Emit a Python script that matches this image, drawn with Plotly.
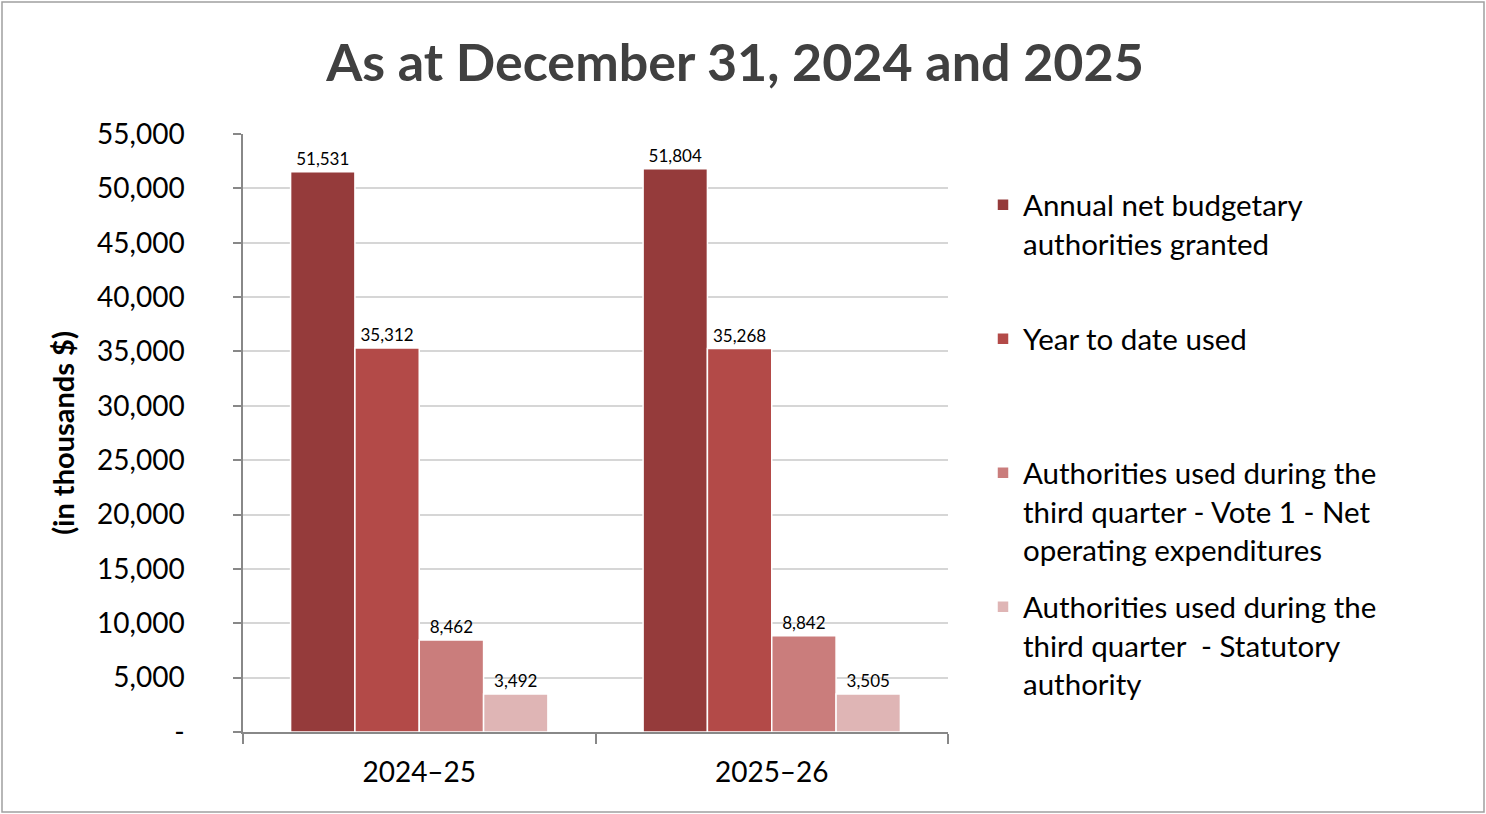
import plotly.graph_objects as go

# values in thousands of dollars
years = ["2024\u201325", "2025\u201326"]
annual_granted = [51531, 51804]
ytd_used = [35312, 35268]
q3_vote1 = [8462, 8842]
q3_statutory = [3492, 3505]

series_names = [
    "Annual net budgetary<br>authorities granted",
    "Year to date used",
    "Authorities used during the<br>third quarter - Vote 1 - Net<br>operating expenditures",
    "Authorities used during the<br>third quarter  - Statutory<br>authority",
]
series_values = [annual_granted, ytd_used, q3_vote1, q3_statutory]
series_colors = ["#953B3B", "#B34A48", "#CA7D7C", "#DFB5B5"]

y_ticks = [0, 5000, 10000, 15000, 20000, 25000, 30000, 35000, 40000, 45000, 50000, 55000]
y_ticktext = ["-"] + [f"{v:,}" for v in y_ticks[1:]]

FONT = "Lato"

# plot area in pixels (figure is 1486 x 814)
L, R, T, B = 243, 948, 134, 732
W, H = 1486, 814
pw, ph = R - L, B - T

def px_x(x):
    return (x - L) / pw

def px_y(y):
    return (B - y) / ph

fig = go.Figure()

legend_tops = [179, 313, 447, 581]
legend_names = ["legend", "legend2", "legend3", "legend4"]

for name, vals, color, lg in zip(series_names, series_values, series_colors, legend_names):
    fig.add_trace(go.Bar(
        x=years, y=vals, name=name,
        marker=dict(color=color, line=dict(color="white", width=1.5)),
        text=[f"{v:,}" for v in vals],
        textposition="outside",
        textfont=dict(family=FONT, size=17, color="black"),
        cliponaxis=False,
        legend=lg, showlegend=True,
    ))

layout_legends = {}
for lg, top in zip(legend_names, legend_tops):
    layout_legends[lg] = dict(
        x=px_x(983), y=px_y(top), xanchor="left", yanchor="top",
        font=dict(family=FONT, size=29.5, color="black"),
        bgcolor="rgba(0,0,0,0)", valign="top",
        itemclick=False, itemdoubleclick=False,
    )

fig.update_layout(
    width=W, height=H,
    margin=dict(l=L, r=W - R, t=T, b=H - B, autoexpand=False),
    paper_bgcolor="white", plot_bgcolor="white",
    barmode="group", bargap=0.27, bargroupgap=0,
    showlegend=True,
    title=dict(
        text="<b>As at December 31, 2024 and 2025</b>",
        x=px_x(735), xanchor="center", xref="paper",
        y=1 - 63 / H, yanchor="middle",
        font=dict(family=FONT, size=52, color="#404040"),
    ),
    font=dict(family=FONT, color="black"),
    **layout_legends,
)

fig.update_xaxes(
    showline=True, linecolor="#888888", linewidth=1.5,
    ticks="outside", tickson="boundaries", ticklen=10, tickcolor="#888888", tickwidth=1.5,
    ticklabelstandoff=15,
    tickfont=dict(family=FONT, size=28, color="black"),
    showgrid=False,
)
fig.update_yaxes(
    range=[0, 55000],
    tickvals=y_ticks, ticktext=y_ticktext,
    showline=True, linecolor="#888888", linewidth=1.5,
    ticks="outside", ticklen=8, tickcolor="#888888", tickwidth=1.5,
    ticklabelstandoff=43,
    tickfont=dict(family=FONT, size=28, color="black"),
    showgrid=True, gridcolor="#D6D6D6", gridwidth=1.5,
    zeroline=False,
    title=dict(text="<b>(in thousands $)</b>", font=dict(family=FONT, size=29, color="black"), standoff=14),
)

# outer frame of the chart
fig.add_shape(
    type="rect", xref="paper", yref="paper",
    x0=px_x(2), x1=px_x(W - 2), y0=px_y(H - 2), y1=px_y(2),
    line=dict(color="#A0A0A0", width=1.5), fillcolor="rgba(0,0,0,0)", layer="below",
)

# page body has a default margin; drop it so the figure sits at the window origin
fig.write_html(
    "out.html",
    config={"displayModeBar": False},
    post_script="document.body.style.margin='0px';",
)
